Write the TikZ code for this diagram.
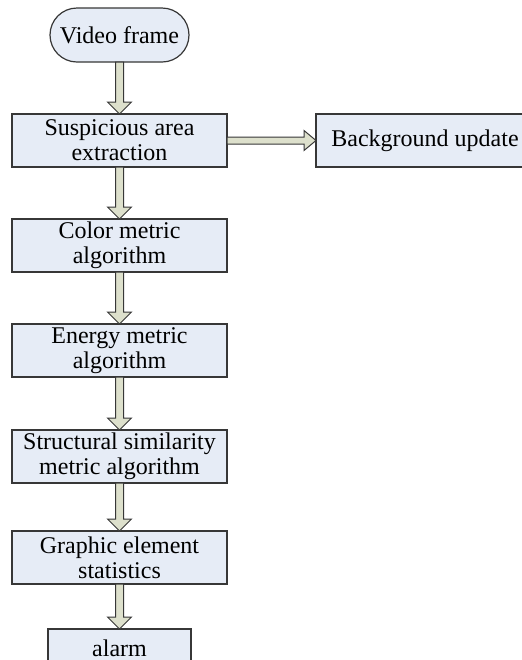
\documentclass[tikz,border=0pt]{standalone}
\usepackage{fontspec}
\setmainfont{Liberation Serif}
\usetikzlibrary{positioning}
\usetikzlibrary{calc}
\usetikzlibrary{shapes.misc}
\definecolor{boxfill}{RGB}{230,236,246}
\definecolor{arrowfill}{RGB}{221,224,204}
\definecolor{edgegray}{RGB}{55,55,55}
\tikzset{
  stepbox/.style={draw=edgegray, fill=boxfill, line width=0.6pt, minimum width=107.5pt,
    minimum height=26.5pt, outer sep=0pt, align=center, inner sep=1pt, font=\fontsize{12}{12.5}\selectfont},
  startbox/.style={stepbox, rounded rectangle, minimum width=71.5pt, minimum height=27pt},
  blockarrow/.style={draw=edgegray, fill=arrowfill, line width=0.5pt, line join=miter},
}
\newcommand{\flowdown}[2]{%
  \draw[blockarrow] ($(#1.south)+(-4,0)$) -- ($(#2.north)+(-4,-12)$) -- ($(#2.north)+(-12,-12)$)
    -- (#2.north) -- ($(#2.north)+(12,-12)$) -- ($(#2.north)+(4,-12)$) -- ($(#1.south)+(4,0)$) -- cycle;}
\newcommand{\flowright}[2]{%
  \draw[blockarrow] ($(#1.east)+(0,-3.5)$) -- ($(#2.west)+(-12,-3.5)$) -- ($(#2.west)+(-12,-10)$)
    -- (#2.west) -- ($(#2.west)+(-12,10)$) -- ($(#2.west)+(-12,3.5)$) -- ($(#1.east)+(0,3.5)$) -- cycle;}

\begin{document}
\begin{tikzpicture}[x=0.5pt, y=-0.5pt, node distance=26pt]
      \useasboundingbox (0,0) rectangle (522,660);

      \node[startbox] (frame) at (119.5,35) {Video frame};
      \node[stepbox, below=of frame] (extract) {Suspicious area\\extraction};
      \node[stepbox, right=44.5pt of extract, minimum width=109pt] (bgupdate) {Background update};
      \node[stepbox, below=of extract] (color) {Color metric\\algorithm};
      \node[stepbox, below=of color] (energy) {Energy metric\\algorithm};
      \node[stepbox, below=26.5pt of energy] (ssim) {Structural similarity\\metric algorithm};
      \node[stepbox, below=24pt of ssim] (graphic) {Graphic element\\statistics};
      \node[stepbox, below=22.5pt of graphic, minimum width=71.5pt, minimum height=19pt] (alarm) {alarm};

      \flowdown{frame}{extract}
      \flowright{extract}{bgupdate}
      \flowdown{extract}{color}
      \flowdown{color}{energy}
      \flowdown{energy}{ssim}
      \flowdown{ssim}{graphic}
      \flowdown{graphic}{alarm}
    \end{tikzpicture}
\end{document}
